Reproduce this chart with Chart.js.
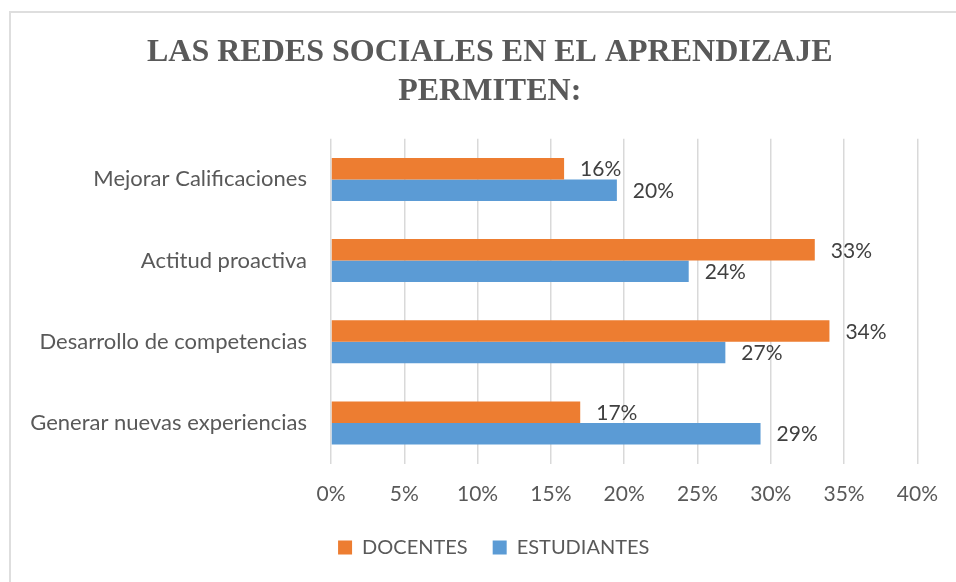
<!DOCTYPE html>
<html>
<head>
<meta charset="utf-8">
<script src="https://cdn.jsdelivr.net/npm/chart.js@4.4.0/dist/chart.umd.min.js"></script>
<style>
  html, body { margin: 0; padding: 0; background: #fff; }
  #wrap { position: relative; width: 956px; height: 582px; overflow: hidden; }
  #frame { position: absolute; left: 9px; top: 11px; width: 960px; height: 600px; border: 2px solid #dedede; }
  #chart { position: absolute; left: 0; top: 0; }
</style>
</head>
<body>
<div id="wrap">
  <div id="frame"></div>
  <canvas id="chart" width="956" height="582"></canvas>
</div>
<script>
// categories and series (percent)
const categories = [
  "Mejorar Calificaciones",
  "Actitud proactiva",
  "Desarrollo de competencias",
  "Generar nuevas experiencias"
];
const docentes = [15.9, 33.0, 34.0, 17.0];
const estudiantes = [19.5, 24.4, 26.9, 29.3];
const xTicks = [0, 5, 10, 15, 20, 25, 30, 35, 40];

const FONT = "Lato";

// value labels at the end of each bar
const barLabels = {
  id: "barLabels",
  afterDatasetsDraw(chart) {
    const ctx = chart.ctx;
    ctx.save();
    ctx.font = "21px " + FONT;
    ctx.fillStyle = "#404040";
    ctx.textAlign = "left";
    ctx.textBaseline = "middle";
    chart.data.datasets.forEach((ds, i) => {
      chart.getDatasetMeta(i).data.forEach((bar, j) => {
        ctx.fillText(Math.round(ds.data[j]) + "%", bar.x + 16, bar.y + 1);
      });
    });
    ctx.restore();
  }
};

// title and legend are centred on the whole frame, not on the plot
const recentre = {
  id: "recentre",
  afterLayout(chart) {
    const shift = (box, dx) => { if (box) { box.left += dx; box.right += dx; } };
    shift(chart.titleBlock, 30);
    shift(chart.legend, 34);
  }
};

new Chart(document.getElementById("chart").getContext("2d"), {
  type: "bar",
  data: {
    labels: categories,
    datasets: [
      { label: "DOCENTES", data: docentes, backgroundColor: "#ED7D31" },
      { label: "ESTUDIANTES", data: estudiantes, backgroundColor: "#5B9BD5" }
    ]
  },
  options: {
    indexAxis: "y",
    responsive: false,
    animation: false,
    layout: { padding: { left: 0, right: 36.5, top: 0, bottom: 14.5 } },
    datasets: { bar: { categoryPercentage: 0.53, barPercentage: 1 } },
    scales: {
      x: {
        min: 0,
        max: 40,
        afterBuildTicks: s => { s.ticks = xTicks.map(v => ({ value: v })); },
        afterFit: s => { s.height = 49; },
        grid: { color: "#d9d9d9", lineWidth: 1.5, drawTicks: false },
        border: { display: false },
        ticks: {
          padding: 18,
          color: "#595959",
          font: { family: FONT, size: 21 },
          callback: v => v + "%"
        }
      },
      y: {
        afterFit: s => { s.width = 331; },
        grid: { display: false, drawTicks: false },
        border: { display: false },
        ticks: {
          padding: 24,
          color: "#595959",
          font: { family: FONT, size: 22 }
        }
      }
    },
    plugins: {
      title: {
        display: true,
        text: ["LAS REDES SOCIALES EN EL APRENDIZAJE", "PERMITEN:"],
        color: "#595959",
        font: { family: "Liberation Serif", size: 32, weight: "bold", lineHeight: 1.2 },
        padding: { top: 34, bottom: 28 }
      },
      legend: {
        position: "bottom",
        labels: {
          boxWidth: 14,
          boxHeight: 14,
          padding: 25,
          color: "#595959",
          font: { family: FONT, size: 20 }
        }
      },
      tooltip: { enabled: false }
    }
  },
  plugins: [barLabels, recentre]
});
</script>
</body>
</html>
